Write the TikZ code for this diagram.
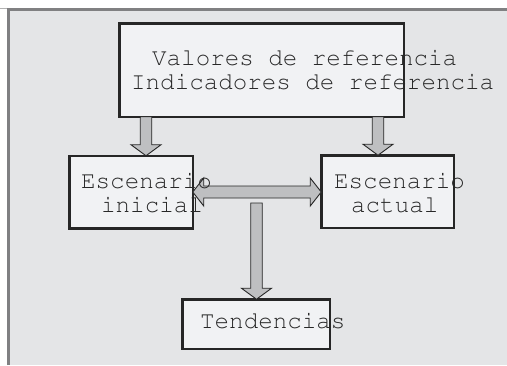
\documentclass[tikz,border=0pt]{standalone}
\usepackage[T1]{fontenc}
\usepackage{courier}
\usetikzlibrary{calc}
\definecolor{fondo}{RGB}{228,229,231}
\definecolor{relleno}{RGB}{241,242,244}
\definecolor{gris}{RGB}{190,191,193}
\definecolor{marco}{RGB}{128,128,130}
\definecolor{tinta}{RGB}{40,40,40}
% flecha de bloque vertical: desde #1 hasta la punta #2
\newcommand\bajada[2]{%
  \draw[bloque] let \p1=(#1), \p2=(#2) in
    (\x1-5.75pt,\y1) -- (\x1-5.75pt,\y2+11pt) -- (\x1-15pt,\y2+11pt) -- (\x1,\y2)
    -- (\x1+15pt,\y2+11pt) -- (\x1+5.75pt,\y2+11pt) -- (\x1+5.75pt,\y1) -- cycle;}
\begin{document}
\begin{tikzpicture}[x=1pt, y=-1pt,
    caja/.style={draw=black!85, fill=relleno, line width=2.5pt, inner sep=0pt, outer sep=0pt},
    bloque/.style={draw=black!85, fill=gris, line width=0.9pt, line join=miter},
    texto/.style={anchor=base west, inner sep=0pt, text=tinta, font=\ttfamily\fontsize{24.2}{24}\selectfont}]
  \useasboundingbox (0,0) rectangle (507,365);
  \fill[fondo] (8,9) rectangle (507,365);
  \draw[marco, line width=3pt] (8.5,365) -- (8.5,9.5) -- (507,9.5);
  \draw[black!30, line width=0.6pt] (0,8.3) -- (7,8.3);

  \node[caja, minimum width=284.5pt, minimum height=93.5pt] (ref) at (261.5,70) {};
  \node[caja, minimum width=123.5pt, minimum height=72.5pt] (ini) at (131,192) {};
  \node[caja, minimum width=132.5pt, minimum height=72.5pt] (act) at (387.5,191.5) {};
  \node[caja, minimum width=147.5pt, minimum height=49.5pt] (tend) at (256,324) {};

  \coordinate (izq) at (146,0);
  \coordinate (der) at (378,0);
  \coordinate (tronco) at (256.5,203);
  \bajada{izq |- ref.south}{izq |- ini.north}
  \bajada{der |- ref.south}{der |- act.north}
  \bajada{tronco}{tronco |- tend.north}
  \draw[bloque] let \p1=(ini.east), \p2=(act.west) in
    (\x1,\y1) -- (\x1+11pt,\y1+14pt) -- (\x1+11pt,\y1+6pt) -- (\x2-11pt,\y1+6pt)
    -- (\x2-11pt,\y1+14pt) -- (\x2,\y1) -- (\x2-11pt,\y1-14pt) -- (\x2-11pt,\y1-6pt)
    -- (\x1+11pt,\y1-6pt) -- (\x1+11pt,\y1-14pt) -- cycle;

  \node[texto] (val) at (152,65) {Valores de referencia};
  \node[texto] (ind) at (131,89) {Indicadores de referencia};
  \node[texto] (esc1) at (81,188) {Escenario};
  \node[texto] (inic) at (101,212) {inicial};
  \node[texto] (esc2) at (334,188) {Escenario};
  \node[texto] (actu) at (351,212) {actual};
  \node[texto] (tnd) at (200,328) {Tendencias};
\end{tikzpicture}
\end{document}
